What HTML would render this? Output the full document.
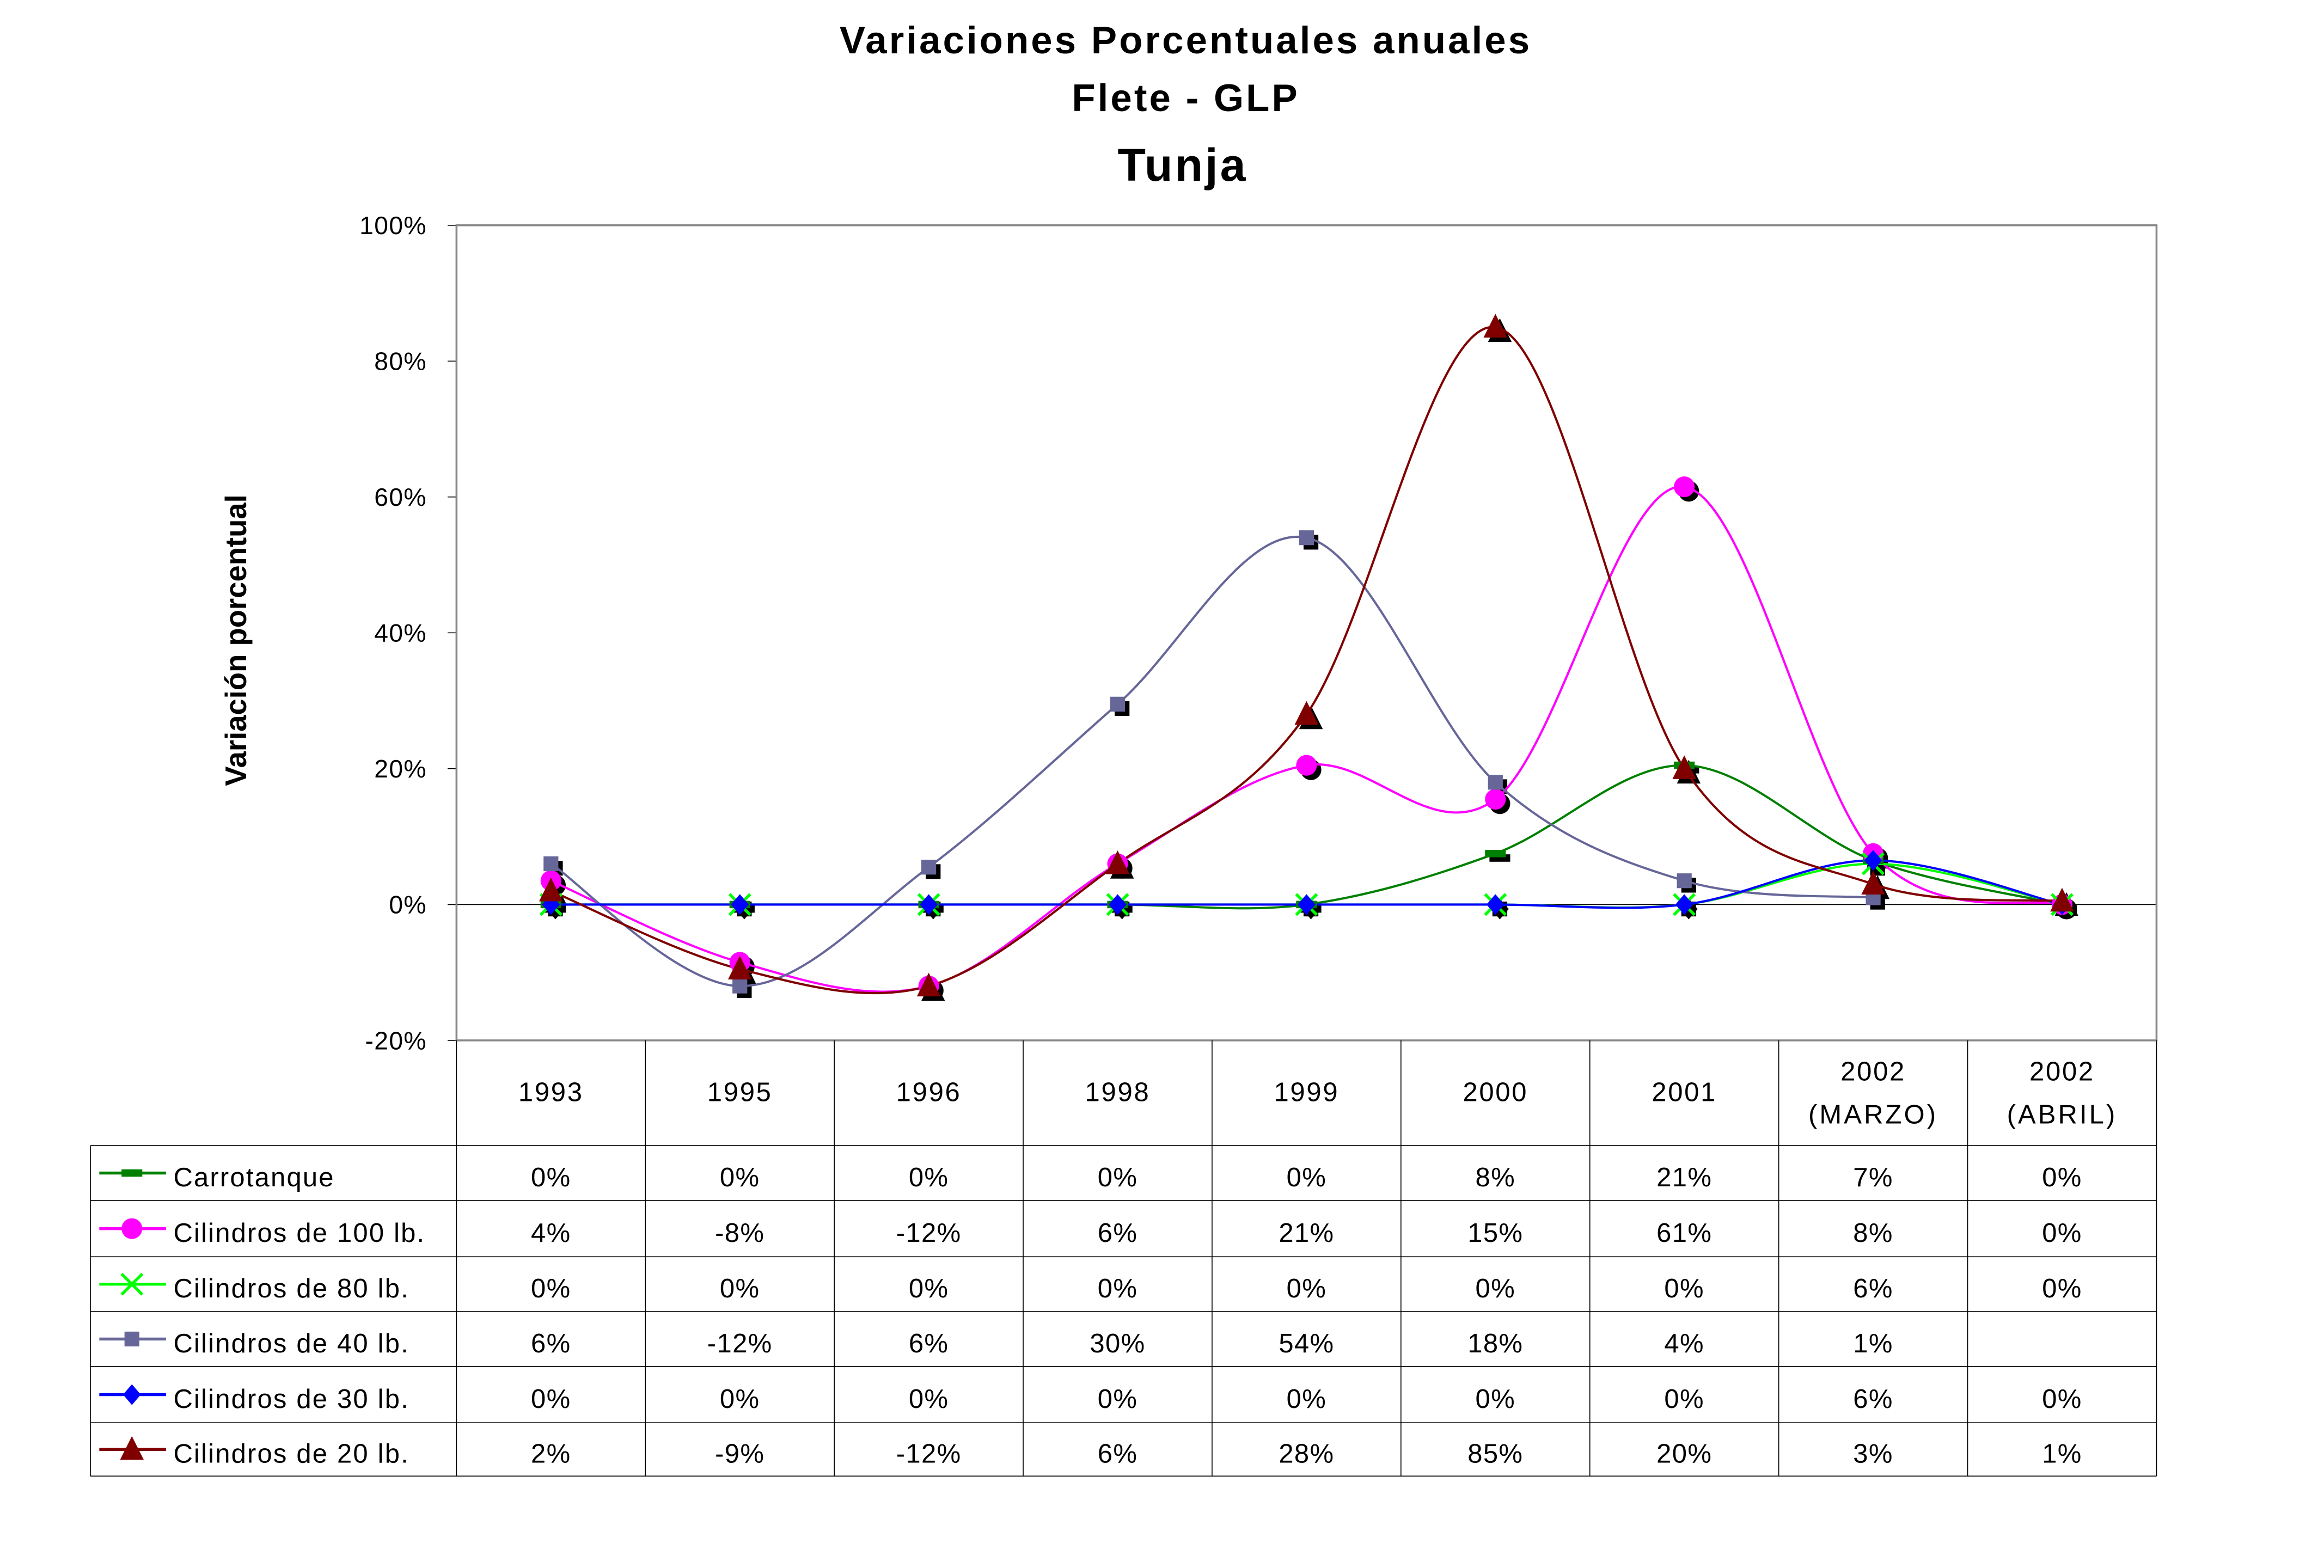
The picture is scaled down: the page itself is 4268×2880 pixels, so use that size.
<!DOCTYPE html>
<html><head><meta charset="utf-8"><style>
html,body{margin:0;padding:0;background:#fff;}
svg{display:block;}
text{font-family:"Liberation Sans",sans-serif;fill:#000;}
</style></head><body>
<svg id="s" width="4268" height="2880" viewBox="0 0 1568 1058" preserveAspectRatio="none" xmlns="http://www.w3.org/2000/svg">
<rect width="1568" height="1058" fill="#fff"/>
<text x="800" y="36" text-anchor="middle" font-size="26" font-weight="bold" letter-spacing="1.5">Variaciones Porcentuales anuales</text>
<text x="800" y="75" text-anchor="middle" font-size="26" font-weight="bold" letter-spacing="1.5">Flete - GLP</text>
<text x="798" y="122" text-anchor="middle" font-size="31" font-weight="bold" letter-spacing="1.5">Tunja</text>
<text transform="translate(166,432) rotate(-90)" text-anchor="middle" font-size="20" font-weight="bold">Variación porcentual</text>
<g id="g"></g>
</svg>
<script>
var g=document.getElementById('g'),h='';
var L=308,R=1455,T=152,B=702,cw=(R-L)/9;
function Y(v){return T+(100-v)/120*(B-T);}
function X(i){return L+cw*(i+0.5);}
for(var v=100;v>=-20;v-=20){var y=Y(v);h+='<line x1="302" y1="'+y+'" x2="308" y2="'+y+'" stroke="#000" stroke-width="0.6"/>';
h+='<text x="288" y="'+(y+6)+'" text-anchor="end" font-size="17" letter-spacing="0.5">'+v+'%</text>';}
h+='<line x1="308" y1="'+Y(0)+'" x2="1455" y2="'+Y(0)+'" stroke="#000" stroke-width="0.6"/>';
h+='<rect x="308" y="152" width="1147" height="550" fill="none" stroke="#888" stroke-width="1.3"/>';
var rows=[773,810,848,885,922,960,996];
h+='<g stroke="#000" stroke-width="0.6" fill="none">';
for(var i=0;i<=9;i++){var x=L+cw*i;h+='<line x1="'+x+'" y1="702" x2="'+x+'" y2="996"/>';}
h+='<line x1="61" y1="773" x2="61" y2="996"/>';
rows.forEach(function(r){h+='<line x1="61" y1="'+r+'" x2="1455" y2="'+r+'"/>';});
h+='</g>';
var cats=[["1993"],["1995"],["1996"],["1998"],["1999"],["2000"],["2001"],["2002","(MARZO)"],["2002","(ABRIL)"]];
cats.forEach(function(c,i){if(c.length==1)h+='<text x="'+X(i)+'" y="743" text-anchor="middle" font-size="18" letter-spacing="1">'+c[0]+'</text>';
else{h+='<text x="'+X(i)+'" y="729" text-anchor="middle" font-size="18" letter-spacing="1">'+c[0]+'</text><text x="'+X(i)+'" y="758" text-anchor="middle" font-size="18" letter-spacing="1.5">'+c[1]+'</text>';}});
var S=[
 {n:"Carrotanque",c:"#008000",m:"dash",v:[0,0,0,0,0,7.5,20.5,6.5,0],t:["0%","0%","0%","0%","0%","8%","21%","7%","0%"]},
 {n:"Cilindros de 100 lb.",c:"#ff00ff",m:"circ",v:[3.5,-8.5,-12,6,20.5,15.5,61.5,7.5,0],t:["4%","-8%","-12%","6%","21%","15%","61%","8%","0%"]},
 {n:"Cilindros de 80 lb.",c:"#00ff00",m:"x",v:[0,0,0,0,0,0,0,6,0],t:["0%","0%","0%","0%","0%","0%","0%","6%","0%"]},
 {n:"Cilindros de 40 lb.",c:"#666699",m:"sq",v:[6,-12,5.5,29.5,54,18,3.5,1,null],t:["6%","-12%","6%","30%","54%","18%","4%","1%",""]},
 {n:"Cilindros de 30 lb.",c:"#0000ff",m:"dia",v:[0,0,0,0,0,0,0,6.5,0],t:["0%","0%","0%","0%","0%","0%","0%","6%","0%"]},
 {n:"Cilindros de 20 lb.",c:"#800000",m:"tri",v:[2,-9.5,-12,6,28,85,20,3,0.5],t:["2%","-9%","-12%","6%","28%","85%","20%","3%","1%"]}
];
function mk(m,x,y,c){
 switch(m){
 case"dash":return '<rect x="'+(x-7)+'" y="'+(y-2.5)+'" width="14" height="5" fill="'+c+'"/>';
 case"circ":return '<circle cx="'+x+'" cy="'+y+'" r="7" fill="'+c+'"/>';
 case"x":return '<path d="M'+(x-7)+' '+(y-7)+'L'+(x+7)+' '+(y+7)+'M'+(x+7)+' '+(y-7)+'L'+(x-7)+' '+(y+7)+'" stroke="'+c+'" stroke-width="2"/>';
 case"sq":return '<rect x="'+(x-5)+'" y="'+(y-5)+'" width="10" height="10" fill="'+c+'"/>';
 case"dia":return '<path d="M'+x+' '+(y-7)+'L'+(x+6)+' '+y+'L'+x+' '+(y+7)+'L'+(x-6)+' '+y+'Z" fill="'+c+'"/>';
 case"tri":return '<path d="M'+x+' '+(y-9)+'L'+(x+8)+' '+(y+7)+'L'+(x-8)+' '+(y+7)+'Z" fill="'+c+'"/>';
 }}
function path(p){var d='M'+p[0][0]+' '+p[0][1];
 for(var i=0;i<p.length-1;i++){var p0=p[i-1]||p[i],p1=p[i],p2=p[i+1],p3=p[i+2]||p2;
 var c1=[p1[0]+(p2[0]-p0[0])/6,p1[1]+(p2[1]-p0[1])/6],c2=[p2[0]-(p3[0]-p1[0])/6,p2[1]-(p3[1]-p1[1])/6];
 d+='C'+c1[0]+' '+c1[1]+' '+c2[0]+' '+c2[1]+' '+p2[0]+' '+p2[1];}return d;}
var shadows='',lines='',marks='';
S.forEach(function(s){var p=[];s.v.forEach(function(v,i){if(v!==null)p.push([X(i),Y(v)]);});
 lines+='<path d="'+path(p)+'" fill="none" stroke="'+s.c+'" stroke-width="1.5"/>';
 p.forEach(function(q){shadows+=mk(s.m=="x"?"sq":s.m,q[0]+3,q[1]+3,"#000");marks+=mk(s.m,q[0],q[1],s.c);});});
h+=shadows+lines+marks;
S.forEach(function(s,k){var y=(rows[k]+rows[k+1])/2;
 h+='<line x1="67" y1="'+y+'" x2="112" y2="'+y+'" stroke="'+s.c+'" stroke-width="2"/>'+mk(s.m,89,y,s.c);
 h+='<text x="117" y="'+(y+9)+'" font-size="18" letter-spacing="0.8">'+s.n+'</text>';
 s.t.forEach(function(t,i){if(t)h+='<text x="'+X(i)+'" y="'+(y+9)+'" text-anchor="middle" font-size="18" letter-spacing="0.5">'+t+'</text>';});});
g.innerHTML=h;
</script>
</body></html>
